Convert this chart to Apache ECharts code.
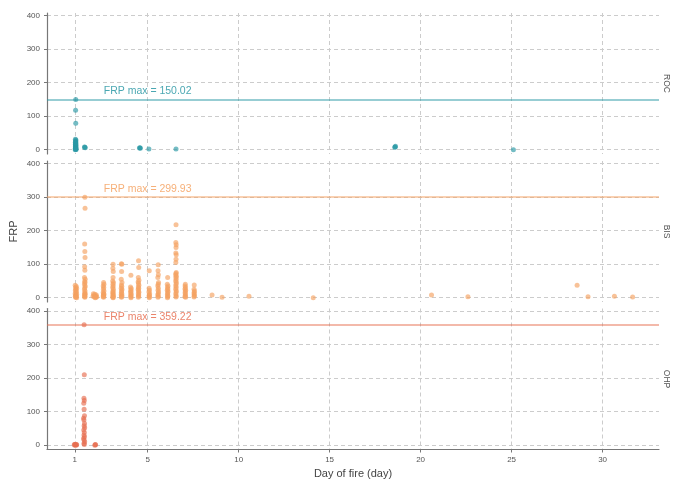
<!DOCTYPE html>
<html>
<head>
<meta charset="utf-8">
<script src="https://cdn.jsdelivr.net/npm/echarts@6/dist/echarts.min.js"></script>
<style>
  html, body { margin: 0; padding: 0; background: #ffffff; }
  #chart { width: 673px; height: 479px; }
</style>
</head>
<body>
<div id="chart"></div>
<script>
// Facet names (top to bottom) and each site's maximum FRP
const sites = ['ROC', 'BIS', 'OHP'];
const frpMax = [150.02, 299.93, 359.22];
const siteColors = ['#2a98a4', '#f4a261', '#e76f51'];

// Axis tick values
const dayTicks = [1, 5, 10, 15, 20, 25, 30];
const frpTicks = [0, 100, 200, 300, 400];

// Observations: [day of fire, FRP]
const rocPoints = [
  [1.05, 150.02], [1.04, 118], [1.05, 79], [1.03, 31], [1.06, 29], [1.04, 26], [1.05, 24],
  [1.03, 22], [1.06, 20], [1.04, 18], [1.05, 16], [1.03, 15], [1.06, 13], [1.04, 12],
  [1.05, 10], [1.03, 9], [1.06, 7], [1.04, 6], [1.05, 5], [1.03, 4], [1.06, 3], [1.04, 2],
  [1.05, 1], [1.07, 0.5], [1.02, 0],
  [1.53, 8], [1.55, 7], [1.57, 6],
  [4.55, 5], [4.58, 6], [4.6, 4],
  [5.07, 2],
  [6.56, 2],
  [18.58, 7], [18.6, 8], [18.62, 10],
  [25.1, 0]
];

const bisPoints = [
  // day ~1
  [1.02, 37], [1.08, 33], [1.04, 30], [1.1, 27], [1.05, 24], [1.03, 21], [1.09, 18], [1.06, 15],
  [1.02, 12], [1.1, 10], [1.05, 8], [1.08, 6], [1.03, 4], [1.07, 2], [1.04, 1], [1.1, 0],
  // day ~1.5
  [1.55, 299.93], [1.56, 267], [1.54, 160], [1.55, 138], [1.56, 120], [1.54, 92], [1.55, 82],
  [1.53, 60], [1.57, 55], [1.54, 48], [1.56, 45], [1.53, 40], [1.57, 35], [1.55, 30],
  [1.53, 25], [1.56, 20], [1.54, 15], [1.57, 12], [1.55, 10], [1.53, 8], [1.56, 5],
  [1.54, 3], [1.55, 1],
  // day ~2
  [2.02, 12], [2.1, 10], [2.18, 8], [2.05, 6], [2.14, 5], [2.0, 4], [2.2, 3], [2.08, 2],
  [2.16, 1], [2.12, 0],
  // day ~2.6
  [2.58, 45], [2.6, 40], [2.56, 35], [2.59, 30], [2.57, 25], [2.6, 20], [2.56, 15],
  [2.58, 12], [2.6, 10], [2.57, 7], [2.59, 5], [2.56, 3], [2.58, 1],
  // day ~3.1
  [3.1, 100], [3.09, 88], [3.11, 78], [3.1, 60], [3.08, 50], [3.12, 45], [3.09, 40],
  [3.11, 35], [3.08, 30], [3.12, 25], [3.1, 20], [3.09, 17], [3.11, 14], [3.08, 11],
  [3.12, 8], [3.1, 5], [3.09, 3], [3.11, 1], [3.1, 0],
  // day ~3.6
  [3.56, 101], [3.58, 100], [3.57, 78], [3.55, 55], [3.59, 45], [3.56, 38], [3.58, 33],
  [3.55, 28], [3.59, 24], [3.57, 20], [3.56, 16], [3.58, 12], [3.55, 9], [3.59, 6],
  [3.57, 3], [3.56, 1],
  // day ~4.1
  [4.08, 67], [4.06, 32], [4.1, 27], [4.07, 23], [4.09, 19], [4.06, 15], [4.1, 11],
  [4.08, 8], [4.07, 5], [4.09, 2], [4.08, 0],
  // day ~4.5
  [4.5, 110], [4.51, 90], [4.49, 60], [4.52, 52], [4.48, 47], [4.5, 42], [4.52, 37],
  [4.49, 32], [4.51, 28], [4.48, 24], [4.5, 20], [4.52, 16], [4.49, 12], [4.51, 8],
  [4.5, 4], [4.49, 1],
  // day ~5.1
  [5.09, 80], [5.08, 28], [5.1, 22], [5.07, 17], [5.11, 12], [5.09, 8], [5.08, 5],
  [5.1, 2], [5.09, 0],
  // day ~5.6
  [5.58, 98], [5.57, 80], [5.59, 68], [5.56, 60], [5.6, 45], [5.58, 40], [5.56, 35],
  [5.59, 28], [5.57, 22], [5.6, 17], [5.58, 12], [5.56, 8], [5.59, 4], [5.57, 1],
  // day ~6.1
  [6.1, 60], [6.08, 40], [6.12, 35], [6.09, 30], [6.11, 26], [6.08, 22], [6.12, 18],
  [6.1, 14], [6.09, 10], [6.11, 6], [6.1, 3], [6.09, 0],
  // day ~6.6
  [6.56, 218], [6.55, 165], [6.57, 158], [6.56, 150], [6.55, 133], [6.57, 128], [6.56, 115],
  [6.55, 105], [6.57, 75], [6.56, 72], [6.54, 68], [6.58, 64], [6.55, 60], [6.57, 55],
  [6.54, 50], [6.58, 45], [6.56, 40], [6.55, 35], [6.57, 30], [6.54, 25], [6.58, 20],
  [6.56, 15], [6.55, 10], [6.57, 5], [6.56, 2],
  // day ~7.1
  [7.07, 40], [7.06, 35], [7.08, 30], [7.05, 26], [7.09, 22], [7.07, 18], [7.06, 14],
  [7.08, 10], [7.07, 6], [7.05, 3], [7.09, 1],
  // day ~7.6
  [7.56, 38], [7.55, 25], [7.57, 20], [7.56, 16], [7.55, 12], [7.57, 8], [7.56, 5], [7.55, 2],
  // later days
  [8.54, 8], [9.09, 1], [10.57, 4], [14.1, 0], [20.6, 8], [22.6, 3], [28.6, 37], [29.2, 3],
  [30.65, 4], [31.65, 2]
];

const ohpPoints = [
  [0.97, 2], [1.0, 1], [1.03, 3], [1.06, 0], [1.08, 2], [1.1, 1], [1.0, 0],
  [1.51, 359.22], [1.52, 210], [1.5, 140], [1.52, 133], [1.49, 125], [1.51, 107], [1.53, 88],
  [1.48, 80], [1.5, 75], [1.53, 65], [1.51, 58], [1.54, 52], [1.49, 45], [1.52, 38],
  [1.5, 30], [1.53, 25], [1.48, 20], [1.51, 15], [1.54, 10], [1.5, 5], [1.52, 2],
  [2.12, 2], [2.1, 0], [2.14, 1]
];

const sitePoints = [rocPoints, bisPoints, ohpPoints];

const FONT = '"Liberation Sans", Arial, sans-serif';
const gridTops = [13, 161, 308.5];
const PANEL_H = 141;
const Y_MIN = -13, Y_MAX = 408;
const X_MIN = -0.53, X_MAX = 33.1;

const dashed = { show: true, lineStyle: { color: '#cccccc', width: 1, type: [4, 3] } };

const grids = [], xAxes = [], yAxes = [], series = [], graphics = [];

sites.forEach(function (site, i) {
  const isLast = i === sites.length - 1;
  grids.push({
    left: 47, right: 14, top: gridTops[i], height: PANEL_H,
    containLabel: false, outerBoundsMode: 'none'
  });

  xAxes.push({
    type: 'value', gridIndex: i, min: X_MIN, max: X_MAX,
    axisLine: { show: isLast, onZero: false, lineStyle: { color: '#777777', width: 1.2 } },
    axisTick: { show: isLast, length: 3, customValues: dayTicks, lineStyle: { color: '#777777' } },
    axisLabel: { show: isLast, customValues: dayTicks, margin: 6, color: '#555555', fontSize: 8, fontFamily: FONT },
    splitLine: dashed,
    name: isLast ? 'Day of fire (day)' : '',
    nameLocation: 'middle', nameGap: 19, nameMoveOverlap: false,
    nameTextStyle: { color: '#444444', fontSize: 11, fontFamily: FONT }
  });

  yAxes.push({
    type: 'value', gridIndex: i, min: Y_MIN, max: Y_MAX,
    axisLine: { show: true, onZero: false, lineStyle: { color: '#777777', width: 1.2 } },
    axisTick: { show: true, length: 3, customValues: frpTicks, lineStyle: { color: '#777777' } },
    axisLabel: { customValues: frpTicks, margin: 7, color: '#555555', fontSize: 8, fontFamily: FONT },
    splitLine: dashed,
    name: i === 1 ? 'FRP' : '',
    nameLocation: 'middle', nameGap: 28, nameMoveOverlap: false,
    nameTextStyle: { color: '#444444', fontSize: 11, fontFamily: FONT }
  });

  // observations plus the max-FRP reference line
  series.push({
    type: 'scatter', xAxisIndex: i, yAxisIndex: i,
    data: sitePoints[i], symbolSize: 5, clip: false, silent: true,
    itemStyle: { color: siteColors[i], opacity: 0.65 },
    markLine: {
      silent: true, symbol: 'none', animation: false,
      label: { show: false },
      lineStyle: { color: siteColors[i], type: 'solid', width: 1.6, opacity: 0.65 },
      data: [{ yAxis: frpMax[i] }]
    },
    z: 3
  });

  // "FRP max" annotation above the reference line
  series.push({
    type: 'scatter', xAxisIndex: i, yAxisIndex: i, silent: true,
    data: [[5, frpMax[i] + 24]], symbolSize: 1,
    itemStyle: { color: 'rgba(0,0,0,0)' },
    label: {
      show: true, position: 'inside',
      formatter: 'FRP max = ' + frpMax[i].toFixed(2),
      color: siteColors[i], opacity: 0.85, fontSize: 10.5, fontFamily: FONT
    },
    z: 4
  });

  // facet strip label on the right
  graphics.push({
    type: 'text', x: 666, y: gridTops[i] + PANEL_H / 2, rotation: -Math.PI / 2,
    style: { text: site, fill: '#555555', fontSize: 8.5, fontFamily: FONT, align: 'center', verticalAlign: 'middle' }
  });
});

const chart = echarts.init(document.getElementById('chart'), null, { renderer: 'canvas' });
chart.setOption({
  animation: false,
  backgroundColor: '#ffffff',
  grid: grids,
  xAxis: xAxes,
  yAxis: yAxes,
  series: series,
  graphic: graphics
});
</script>
</body>
</html>
